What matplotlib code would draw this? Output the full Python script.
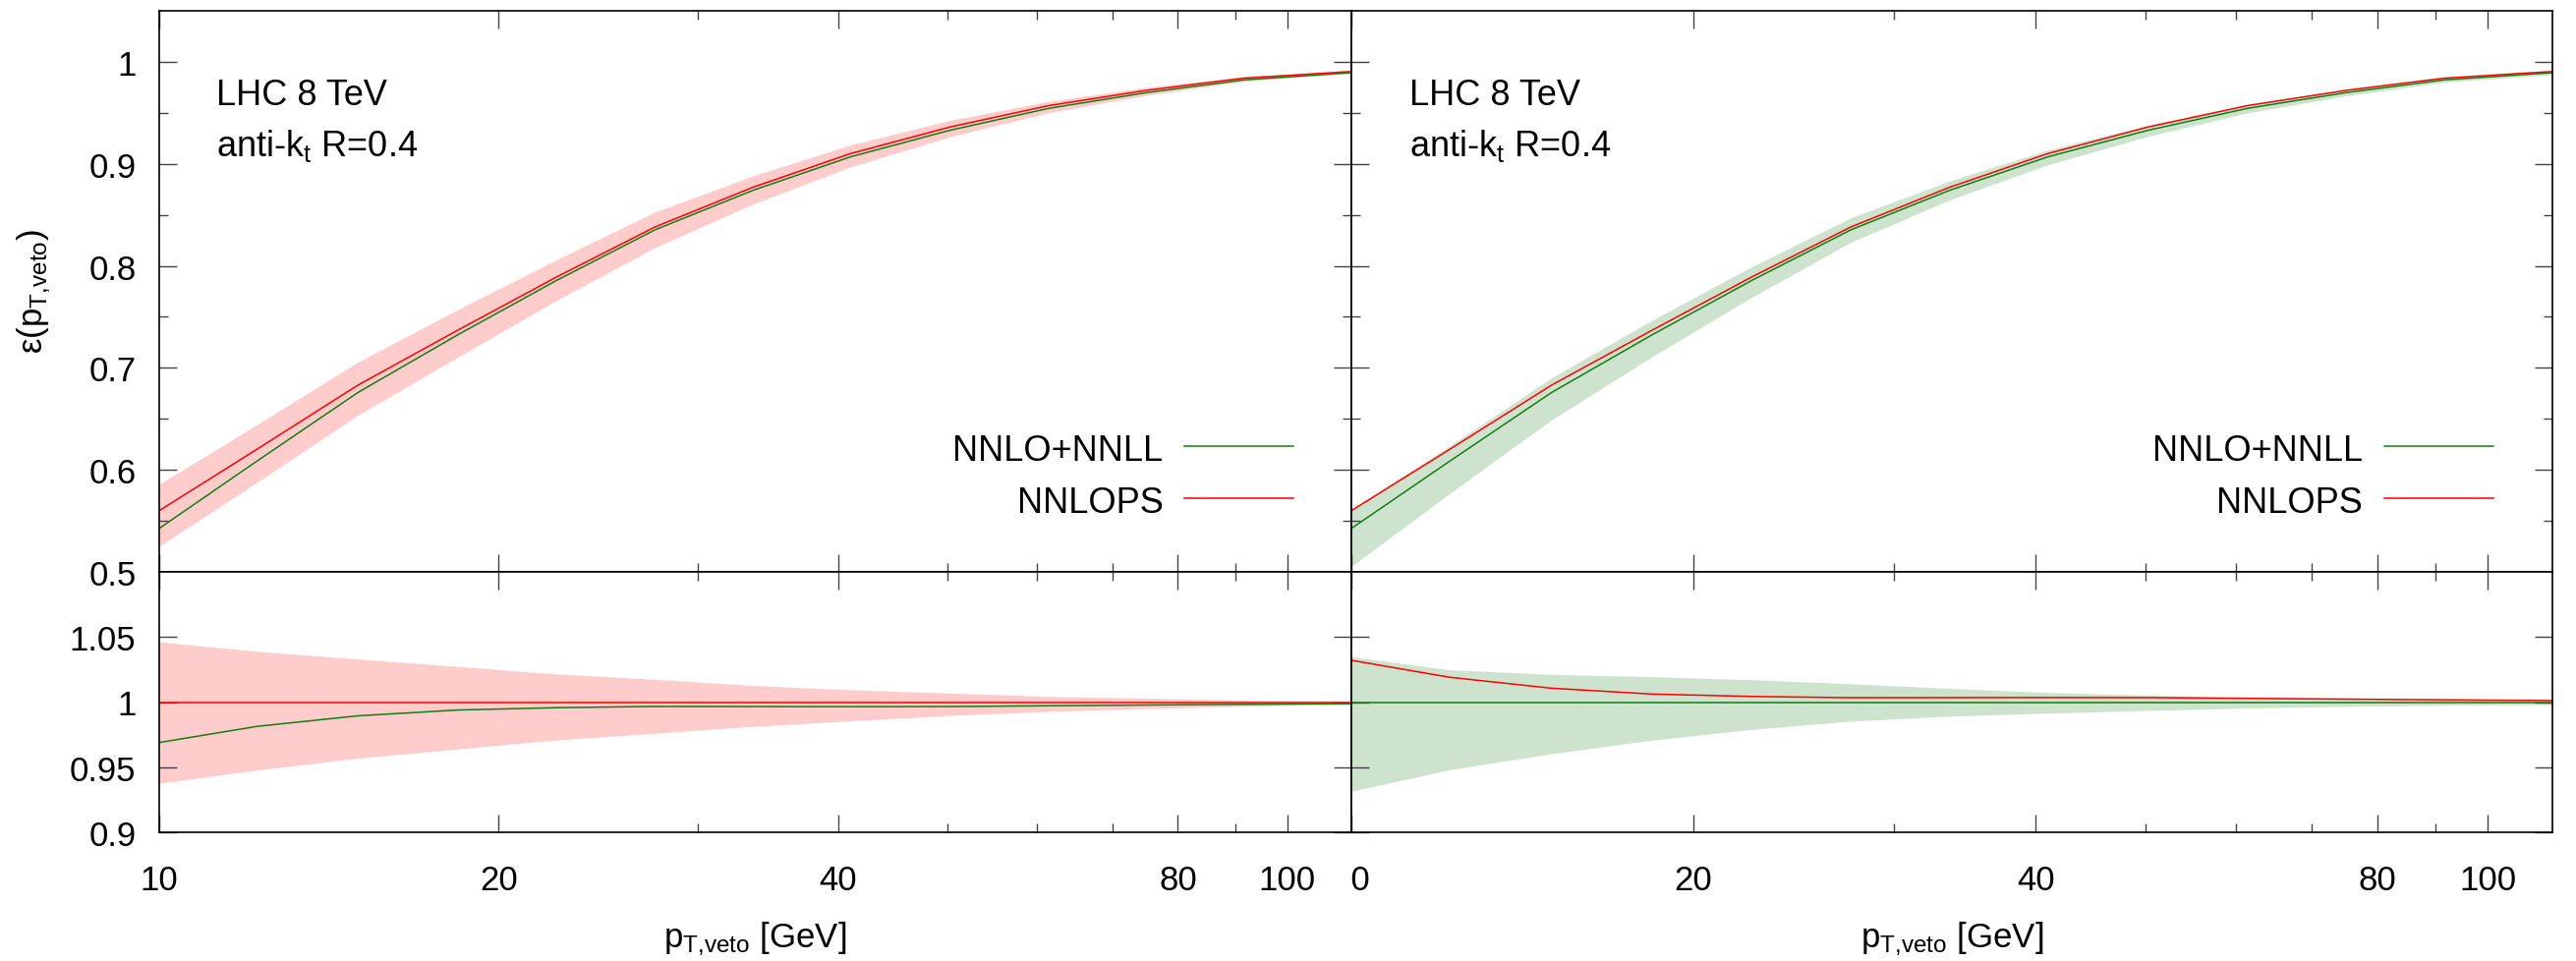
import numpy as np
import matplotlib.pyplot as plt
from matplotlib.ticker import FixedLocator, FuncFormatter, NullFormatter
from matplotlib.transforms import Bbox, TransformedBbox, blended_transform_factory

plt.rcParams['font.family'] = ['Liberation Sans', 'DejaVu Sans']
plt.rcParams['mathtext.fontset'] = 'custom'
plt.rcParams['mathtext.rm'] = 'Liberation Sans'
plt.rcParams['mathtext.it'] = 'Liberation Sans:italic'

# jet-veto efficiency vs pT,veto [GeV]
pt_veto = [10, 12.2, 15, 18.4, 22.5, 27.5, 33.6, 41, 50.2, 61.4, 75, 91.6, 112, 137]

# NNLOPS central value and scale band
eps_nnlops = [0.560, 0.620, 0.683, 0.737, 0.789, 0.838, 0.877, 0.910, 0.936, 0.957, 0.972, 0.984, 0.990, 0.995]
eps_nnlops_lo = [0.5251, 0.5876, 0.6536, 0.7105, 0.7661, 0.8179, 0.8606, 0.8969, 0.9264, 0.9501, 0.9672, 0.9809, 0.9880, 0.9938]
eps_nnlops_hi = [0.5859, 0.6442, 0.7056, 0.7572, 0.8060, 0.8527, 0.8882, 0.9186, 0.9425, 0.9612, 0.9750, 0.9855, 0.9906, 0.9953]

# NNLO+NNLL central value and uncertainty band
eps_nnll = [0.5426, 0.6084, 0.6758, 0.7325, 0.7856, 0.8352, 0.8740, 0.9068, 0.9328, 0.9543, 0.9698, 0.9823, 0.9888, 0.9942]
eps_nnll_lo = [0.5054, 0.5768, 0.6490, 0.7111, 0.7691, 0.8230, 0.8646, 0.8991, 0.9268, 0.9499, 0.9666, 0.9800, 0.9868, 0.9927]
eps_nnll_hi = [0.5615, 0.6235, 0.6902, 0.7468, 0.7991, 0.8470, 0.8832, 0.9135, 0.9378, 0.9579, 0.9723, 0.9841, 0.9901, 0.9952]

x_ticks = [10, 20, 40, 80, 100]
x_minor = [30, 50, 60, 70, 90]
y_ticks_top = [0.5, 0.6, 0.7, 0.8, 0.9, 1.0]
y_minor_top = [0.55, 0.65, 0.75, 0.85, 0.95]
y_ticks_ratio = [0.9, 0.95, 1.0, 1.05]

RED = '#ff0000'
GREEN = '#137d13'
RED_BAND = '#ffcccc'
GREEN_BAND = '#cee3ce'

PT_LABEL = '$\\mathregular{p_{T{,}veto}}$'

W, H = 2621, 979
fig = plt.figure(figsize=(W / 100, H / 100), dpi=100)


def box(x0, x1, y0, y1):
    return [x0 / W, 1 - y1 / H, (x1 - x0) / W, (y1 - y0) / H]


cols = [(162, 1375), (1375, 2597)]
ax_top = [fig.add_axes(box(a, b, 12, 583)) for a, b in cols]
ax_bot = [fig.add_axes(box(a, b, 583, 848)) for a, b in cols]

pt = np.array(pt_veto)
nnlops = np.array(eps_nnlops)
nnll = np.array(eps_nnll)
bands = [(np.array(eps_nnlops_lo), np.array(eps_nnlops_hi), RED_BAND, nnlops),
         (np.array(eps_nnll_lo), np.array(eps_nnll_hi), GREEN_BAND, nnll)]

fmt = FuncFormatter(lambda v, p: f'{v:g}')


def style(ax):
    ax.set_xscale('log')
    ax.set_xlim(10, 114)
    ax.xaxis.set_major_locator(FixedLocator(x_ticks))
    ax.xaxis.set_minor_locator(FixedLocator(x_minor))
    ax.xaxis.set_major_formatter(fmt)
    ax.xaxis.set_minor_formatter(NullFormatter())
    ax.yaxis.set_major_formatter(fmt)
    ax.tick_params(which='both', direction='in', top=True, right=True,
                   color='#444444', width=1.0, labelsize=25)
    ax.tick_params(which='major', length=13)
    ax.tick_params(which='minor', length=6.5)
    ax.tick_params(axis='x', pad=23)
    ax.tick_params(axis='y', pad=17)
    for s in ax.spines.values():
        s.set_linewidth(1.2)


def key(ax, y, label, color):
    ax.text(0.842, y, label, transform=ax.transAxes, ha='right', va='center_baseline', fontsize=26)
    ax.plot([0.86, 0.951], [y, y], transform=ax.transAxes, color=color, lw=1.1)


for i, (lo, hi, band_color, ref) in enumerate(bands):
    ax = ax_top[i]
    ax.fill_between(pt, lo, hi, color=band_color, lw=0)
    ax.plot(pt, nnll, color=GREEN, lw=1.1)
    ax.plot(pt, nnlops, color=RED, lw=1.1)
    style(ax)
    ax.set_ylim(0.5, 1.05)
    ax.yaxis.set_major_locator(FixedLocator(y_ticks_top))
    ax.yaxis.set_minor_locator(FixedLocator(y_minor_top))
    ax.tick_params(labelbottom=False, labelleft=(i == 0))
    ax.text(0.048, 0.834, 'LHC 8 TeV', transform=ax.transAxes, fontsize=26, va='baseline')
    ax.text(0.048, 0.743, 'anti-k$_{\\mathregular{t}}$ R=0.4', transform=ax.transAxes,
            fontsize=26, va='baseline')
    key(ax, 0.224, 'NNLO+NNLL', GREEN)
    key(ax, 0.131, 'NNLOPS', RED)

    # ratio to the central value of the prediction whose band is shown
    ax = ax_bot[i]
    ax.fill_between(pt, lo / ref, hi / ref, color=band_color, lw=0)
    ax.plot(pt, nnll / ref, color=GREEN, lw=1.1)
    ax.plot(pt, nnlops / ref, color=RED, lw=1.1)
    style(ax)
    ax.set_ylim(0.9, 1.1)
    ax.yaxis.set_major_locator(FixedLocator(y_ticks_ratio))
    ax.yaxis.set_minor_locator(FixedLocator([]))
    ax.tick_params(labelleft=(i == 0))
    ax.set_xlabel(PT_LABEL + ' [GeV]', fontsize=25)
    ax.xaxis.set_label_coords(0.5, -0.335)

# the right panel's first x label is cut off at its left edge
ax = ax_bot[1]
clip = TransformedBbox(Bbox([[0, 0], [1.2, 1]]), blended_transform_factory(ax.transAxes, fig.transFigure))
for t in ax.xaxis.get_major_ticks()[:1]:
    t.label1.set_clip_box(clip)
    t.label1.set_clip_on(True)

fig.text(35 / W, 1 - 297 / H, 'ε(' + PT_LABEL + ')', rotation=90,
         ha='center', va='center', fontsize=25)

fig.savefig('out.png', dpi=100)
